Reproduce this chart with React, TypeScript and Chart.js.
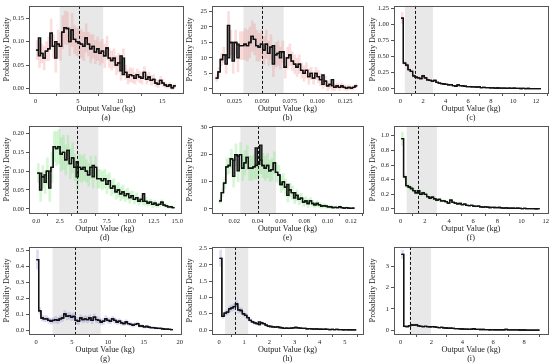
import React, { useEffect, useRef } from 'react';
import { Chart, registerables } from 'chart.js';
Chart.register(...registerables);

// ---------- panel (a) ----------
const aRange = [0.05, 16.6];
const aVals = [
  0.082, 0.07, 0.075, 0.065, 0.08, 0.085, 0.118, 0.09, 0.065, 0.095,
  0.09, 0.12, 0.13, 0.128, 0.1, 0.125, 0.105, 0.1, 0.097, 0.095,
  0.09, 0.108, 0.095, 0.085, 0.09, 0.078, 0.085, 0.075, 0.08, 0.07,
  0.087, 0.065, 0.06, 0.065, 0.05, 0.055, 0.038, 0.065, 0.035, 0.025,
  0.03, 0.028, 0.022, 0.03, 0.025, 0.022, 0.035, 0.02, 0.025, 0.018,
  0.02, 0.012, 0.01, 0.018, 0.012, 0.008, 0.005, 0.008, 0.002, 0.006,
];
const aErr = [
  0.02, 0.025, 0.02, 0.025, 0.02, 0.025, 0.03, 0.025, 0.03, 0.03,
  0.03, 0.035, 0.035, 0.035, 0.03, 0.035, 0.03, 0.03, 0.03, 0.03,
  0.03, 0.03, 0.025, 0.03, 0.025, 0.025, 0.025, 0.025, 0.025, 0.025,
  0.025, 0.02, 0.02, 0.02, 0.02, 0.02, 0.02, 0.02, 0.015, 0.015,
  0.015, 0.015, 0.012, 0.012, 0.012, 0.012, 0.012, 0.01, 0.01, 0.01,
  0.01, 0.008, 0.008, 0.008, 0.008, 0.006, 0.005, 0.005, 0.004, 0.004,
];
const aAlt = [[1, 0.108], [8, 0.1], [36, 0.07], [37, 0.03]];
const aShade = [2.85, 8.0];
const aMark = 5.1;
const aXLim = [-0.78, 17.45];
const aYLim = [-0.009, 0.176];
const aXTicks = [0, 5, 10, 15];
const aYTicks = [0, 0.05, 0.1, 0.15];

// ---------- panel (b) ----------
const bRange = [0.008, 0.136];
const bVals = [
  3.5, 5.5, 9.5, 11, 8, 20.5, 15, 9, 15, 10,
  14, 14, 14.5, 14, 15, 17, 16, 14, 13.5, 14.5,
  12.5, 14.5, 11.5, 13.5, 8, 11, 11.5, 10, 12, 7,
  10, 11, 9, 8, 7, 8, 6, 5, 6, 4,
  5, 3.5, 5, 4, 3, 1.5, 2.5, 1, 1.5, 1,
  0.5, 1, 0.5, 1, 0.5, 0.3, 0.5, 0.3, 0.5, 1,
];
const bErr = [
  1, 1.5, 2, 2.5, 3, 4.5, 4, 4, 4, 4.5,
  4.5, 4.5, 5, 5, 5, 5, 5, 5, 4.5, 4.5,
  4.5, 4.5, 4, 4, 4, 4, 4, 3.5, 3.5, 3.5,
  3.5, 3.5, 3, 3, 3, 3, 2.5, 2.5, 2.5, 2.5,
  2, 2, 2, 2, 2, 1.5, 1.5, 1.5, 1.5, 1.5,
  1, 1, 1, 1, 0.8, 0.8, 0.8, 0.6, 0.6, 0.6,
];
const bAlt = [[4, 11], [5, 10], [7, 15], [9, 14.5], [24, 14], [27, 12], [45, 4.5], [49, 3]];
const bShade = [0.0332, 0.0695];
const bMark = 0.05;
const bXLim = [0.0048, 0.1412];
const bYLim = [-1.3, 26.8];
const bXTicks = [0.025, 0.05, 0.075, 0.1, 0.125];
const bYTicks = [0, 5, 10, 15, 20, 25];

// ---------- panel (c) ----------
const cRange = [0.05, 12.45];
const cVals = [
  1.1, 0.4, 0.37, 0.3, 0.27, 0.2, 0.18, 0.17, 0.16, 0.2,
  0.17, 0.14, 0.13, 0.12, 0.13, 0.1, 0.09, 0.08, 0.075, 0.07,
  0.06, 0.065, 0.05, 0.04, 0.06, 0.05, 0.045, 0.04, 0.035, 0.035,
  0.03, 0.03, 0.025, 0.03, 0.02, 0.022, 0.02, 0.018, 0.015, 0.015,
  0.012, 0.013, 0.01, 0.012, 0.01, 0.008, 0.01, 0.008, 0.01, 0.006,
  0.008, 0.005, 0.006, 0.004, 0.005, 0.003, 0.004, 0.003, 0.002, 0.003,
];
const cErr = [
  0.09, 0.03, 0.03, 0.025, 0.025, 0.02, 0.02, 0.02, 0.02, 0.02,
  0.018, 0.016, 0.015, 0.014, 0.014, 0.012, 0.012, 0.011, 0.01, 0.01,
  0.009, 0.009, 0.008, 0.008, 0.008, 0.007, 0.007, 0.007, 0.006, 0.006,
  0.006, 0.005, 0.005, 0.005, 0.005, 0.004, 0.004, 0.004, 0.004, 0.004,
  0.003, 0.003, 0.003, 0.003, 0.003, 0.003, 0.003, 0.003, 0.003, 0.003,
  0.003, 0.003, 0.003, 0.003, 0.003, 0.003, 0.003, 0.003, 0.003, 0.003,
];
const cAlt: number[][] = [];
const cShade = [0.39, 2.88];
const cMark = 1.31;
const cXLim = [-0.57, 13.07];
const cYLim = [-0.065, 1.29];
const cXTicks = [0, 2, 4, 6, 8, 10, 12];
const cYTicks = [0, 0.25, 0.5, 0.75, 1.0, 1.25];

// ---------- panel (d) ----------
const dRange = [0.1, 14.7];
const dVals = [
  0.095, 0.05, 0.085, 0.07, 0.1, 0.055, 0.11, 0.165, 0.16, 0.165,
  0.145, 0.15, 0.13, 0.155, 0.12, 0.135, 0.11, 0.085, 0.11, 0.105,
  0.11, 0.1, 0.09, 0.11, 0.085, 0.11, 0.08, 0.08, 0.075, 0.08,
  0.065, 0.075, 0.055, 0.06, 0.045, 0.05, 0.04, 0.045, 0.035, 0.04,
  0.03, 0.035, 0.025, 0.03, 0.02, 0.025, 0.02, 0.02, 0.015, 0.018,
  0.012, 0.015, 0.01, 0.012, 0.018, 0.01, 0.008, 0.005, 0.005, 0.003,
];
const dErr = [
  0.025, 0.03, 0.03, 0.03, 0.035, 0.035, 0.04, 0.04, 0.045, 0.045,
  0.045, 0.045, 0.04, 0.04, 0.04, 0.04, 0.035, 0.035, 0.035, 0.035,
  0.035, 0.03, 0.03, 0.03, 0.03, 0.03, 0.025, 0.025, 0.025, 0.025,
  0.025, 0.02, 0.02, 0.02, 0.02, 0.02, 0.018, 0.018, 0.015, 0.015,
  0.015, 0.012, 0.012, 0.012, 0.01, 0.01, 0.01, 0.01, 0.008, 0.008,
  0.008, 0.008, 0.006, 0.006, 0.006, 0.005, 0.005, 0.004, 0.004, 0.003,
];
const dAlt = [[1, 0.095], [3, 0.09], [5, 0.1], [17, 0.125], [24, 0.115], [46, 0.04]];
const dShade = [2.45, 6.6];
const dMark = 4.3;
const dXLim = [-0.77, 15.35];
const dYLim = [-0.011, 0.22];
const dXTicks = [0, 2.5, 5, 7.5, 10, 12.5, 15];
const dYTicks = [0, 0.05, 0.1, 0.15, 0.2];

// ---------- panel (e) ----------
const eRange = [0.007, 0.123];
const eVals = [
  3, 6, 9.5, 15.5, 16, 18.5, 12, 20, 14, 20,
  15, 17, 19, 15, 15, 15.5, 16, 16.5, 18, 16,
  15, 16, 14, 14.5, 17, 13.5, 12.5, 9, 10, 8,
  5, 7, 6, 4, 5, 3.5, 4, 2.5, 3, 2,
  3, 2, 1.5, 2, 1.5, 1, 1.2, 1, 0.8, 0.8,
  0.5, 0.6, 0.5, 0.8, 0.5, 0.3, 0.5, 0.3, 0.2, 0.3,
];
const eErr = [
  1, 1.5, 2, 3, 3, 3.5, 4, 4, 4, 4.5,
  4.5, 4.5, 4.5, 4.5, 4.5, 4.5, 5, 5, 5, 4.5,
  4.5, 4.5, 4, 4, 4, 3.5, 3.5, 3, 3, 3,
  2.5, 2.5, 2.5, 2, 2, 2, 1.8, 1.5, 1.5, 1.5,
  1.2, 1.2, 1, 1, 1, 0.8, 0.8, 0.8, 0.6, 0.6,
  0.5, 0.5, 0.5, 0.4, 0.4, 0.3, 0.3, 0.3, 0.2, 0.2,
];
const eAlt = [[6, 18], [8, 19.5], [16, 22.5], [18, 23.5], [30, 9], [33, 6]];
const eShade = [0.0253, 0.0558];
const eMark = 0.0405;
const eXLim = [0.001, 0.1303];
const eYLim = [-1.5, 30.6];
const eXTicks = [0.02, 0.04, 0.06, 0.08, 0.1, 0.12];
const eYTicks = [0, 10, 20, 30];

// ---------- panel (f) ----------
const fRange = [0.05, 11.5];
const fVals = [
  0.96, 0.44, 0.32, 0.3, 0.28, 0.25, 0.22, 0.25, 0.2, 0.22,
  0.2, 0.17, 0.15, 0.16, 0.14, 0.12, 0.13, 0.11, 0.11, 0.1,
  0.08, 0.12, 0.09, 0.08, 0.07, 0.075, 0.06, 0.065, 0.05, 0.045,
  0.05, 0.04, 0.035, 0.04, 0.03, 0.025, 0.03, 0.025, 0.02, 0.022,
  0.02, 0.018, 0.02, 0.015, 0.012, 0.015, 0.01, 0.012, 0.01, 0.008,
  0.01, 0.008, 0.006, 0.008, 0.005, 0.006, 0.004, 0.005, 0.003, 0.004,
];
const fErr = [
  0.09, 0.04, 0.03, 0.03, 0.03, 0.028, 0.026, 0.026, 0.024, 0.024,
  0.022, 0.02, 0.02, 0.02, 0.018, 0.016, 0.016, 0.015, 0.015, 0.014,
  0.012, 0.014, 0.012, 0.011, 0.01, 0.01, 0.009, 0.009, 0.008, 0.008,
  0.008, 0.007, 0.007, 0.006, 0.006, 0.005, 0.005, 0.005, 0.005, 0.004,
  0.004, 0.004, 0.004, 0.004, 0.004, 0.004, 0.003, 0.003, 0.003, 0.003,
  0.003, 0.003, 0.003, 0.003, 0.003, 0.003, 0.003, 0.003, 0.003, 0.003,
];
const fAlt: number[][] = [];
const fShade = [0.5, 3.0];
const fMark = 1.45;
const fXLim = [-0.55, 12.15];
const fYLim = [-0.055, 1.135];
const fXTicks = [0, 2, 4, 6, 8, 10, 12];
const fYTicks = [0, 0.2, 0.4, 0.6, 0.8, 1.0];

// ---------- panel (g) ----------
const gRange = [0.05, 19.05];
const gVals = [
  0.44, 0.12, 0.075, 0.07, 0.07, 0.06, 0.055, 0.06, 0.065, 0.06,
  0.07, 0.075, 0.1, 0.085, 0.09, 0.08, 0.085, 0.06, 0.055, 0.075,
  0.065, 0.07, 0.065, 0.075, 0.06, 0.08, 0.065, 0.06, 0.05, 0.055,
  0.07, 0.06, 0.055, 0.07, 0.06, 0.05, 0.055, 0.045, 0.04, 0.05,
  0.04, 0.035, 0.03, 0.035, 0.04, 0.025, 0.025, 0.02, 0.022, 0.018,
  0.015, 0.015, 0.012, 0.01, 0.01, 0.008, 0.006, 0.005, 0.004, 0.003,
];
const gErr = [
  0.06, 0.02, 0.018, 0.018, 0.018, 0.018, 0.018, 0.018, 0.02, 0.02,
  0.02, 0.02, 0.022, 0.022, 0.022, 0.022, 0.022, 0.02, 0.02, 0.02,
  0.02, 0.02, 0.02, 0.02, 0.02, 0.02, 0.02, 0.018, 0.018, 0.018,
  0.018, 0.018, 0.016, 0.016, 0.016, 0.015, 0.015, 0.014, 0.013, 0.013,
  0.012, 0.011, 0.01, 0.01, 0.01, 0.009, 0.008, 0.008, 0.007, 0.007,
  0.006, 0.006, 0.005, 0.005, 0.004, 0.004, 0.004, 0.003, 0.003, 0.003,
];
const gAlt: number[][] = [];
const gShade = [2.3, 9.0];
const gMark = 5.45;
const gXLim = [-0.98, 20.2];
const gYLim = [-0.025, 0.52];
const gXTicks = [0, 5, 10, 15, 20];
const gYTicks = [0, 0.1, 0.2, 0.3, 0.4, 0.5];

// ---------- panel (h) ----------
const hRange = [0.02, 5.45];
const hVals = [
  2.2, 0.42, 0.52, 0.55, 0.65, 0.68, 0.72, 0.8, 0.62, 0.6,
  0.5, 0.45, 0.38, 0.3, 0.25, 0.22, 0.2, 0.17, 0.22, 0.2,
  0.15, 0.12, 0.11, 0.1, 0.09, 0.1, 0.08, 0.07, 0.05, 0.06,
  0.05, 0.06, 0.07, 0.08, 0.07, 0.06, 0.05, 0.05, 0.04, 0.045,
  0.035, 0.03, 0.035, 0.025, 0.03, 0.02, 0.025, 0.02, 0.015, 0.02,
  0.015, 0.02, 0.012, 0.015, 0.01, 0.012, 0.008, 0.01, 0.006, 0.005,
];
const hErr = [
  0.25, 0.06, 0.07, 0.08, 0.09, 0.1, 0.1, 0.1, 0.09, 0.08,
  0.07, 0.06, 0.05, 0.05, 0.04, 0.04, 0.04, 0.04, 0.035, 0.03,
  0.03, 0.025, 0.025, 0.02, 0.02, 0.02, 0.02, 0.018, 0.016, 0.015,
  0.015, 0.015, 0.015, 0.015, 0.014, 0.013, 0.012, 0.012, 0.011, 0.01,
  0.01, 0.01, 0.009, 0.009, 0.008, 0.008, 0.008, 0.007, 0.007, 0.007,
  0.006, 0.006, 0.006, 0.006, 0.005, 0.005, 0.005, 0.005, 0.005, 0.005,
];
const hAlt = [[17, 0.25]];
const hShade = [0.24, 1.16];
const hMark = 0.62;
const hXLim = [-0.28, 5.72];
const hYLim = [-0.12, 2.55];
const hXTicks = [0, 1, 2, 3, 4, 5];
const hYTicks = [0, 0.5, 1.0, 1.5, 2.0, 2.5];

// ---------- panel (i) ----------
const iRange = [0.05, 9.0];
const iVals = [
  3.55, 0.18, 0.17, 0.2, 0.25, 0.24, 0.25, 0.2, 0.18, 0.17,
  0.18, 0.17, 0.16, 0.17, 0.15, 0.13, 0.12, 0.13, 0.11, 0.1,
  0.09, 0.095, 0.08, 0.07, 0.075, 0.06, 0.055, 0.05, 0.045, 0.04,
  0.05, 0.065, 0.04, 0.035, 0.03, 0.03, 0.025, 0.025, 0.02, 0.022,
  0.02, 0.018, 0.015, 0.018, 0.02, 0.035, 0.015, 0.012, 0.012, 0.01,
  0.01, 0.008, 0.008, 0.007, 0.006, 0.005, 0.005, 0.004, 0.004, 0.003,
];
const iErr = [
  0.2, 0.03, 0.03, 0.035, 0.04, 0.04, 0.04, 0.035, 0.03, 0.03,
  0.03, 0.028, 0.026, 0.025, 0.024, 0.022, 0.02, 0.02, 0.018, 0.017,
  0.016, 0.015, 0.014, 0.013, 0.012, 0.012, 0.011, 0.01, 0.01, 0.01,
  0.01, 0.012, 0.009, 0.008, 0.008, 0.007, 0.007, 0.006, 0.006, 0.006,
  0.005, 0.005, 0.005, 0.005, 0.005, 0.006, 0.004, 0.004, 0.004, 0.004,
  0.004, 0.003, 0.003, 0.003, 0.003, 0.003, 0.003, 0.003, 0.003, 0.003,
];
const iAlt: number[][] = [];
const iShade = [0.58, 1.97];
const iMark = 0.6;
const iXLim = [-0.43, 9.55];
const iYLim = [-0.18, 3.9];
const iXTicks = [0, 2, 4, 6, 8];
const iYTicks = [0, 1, 2, 3];

const PINK = 'rgba(240,128,128,0.26)';
const GREEN = 'rgba(120,230,120,0.32)';
const BLUE = 'rgba(110,110,220,0.25)';
const FONT = "'Liberation Serif', 'Times New Roman', serif";

type Panel = {
  label: string; range: number[]; vals: number[]; err: number[]; alt: number[][];
  shade: number[]; mark: number; xLim: number[]; yLim: number[];
  xTicks: number[]; yTicks: number[]; xDec: number; yDec: number; band: string;
};

const panels: Panel[] = [
  { label: '(a)', range: aRange, vals: aVals, err: aErr, alt: aAlt, shade: aShade, mark: aMark, xLim: aXLim, yLim: aYLim, xTicks: aXTicks, yTicks: aYTicks, xDec: 0, yDec: 2, band: PINK },
  { label: '(b)', range: bRange, vals: bVals, err: bErr, alt: bAlt, shade: bShade, mark: bMark, xLim: bXLim, yLim: bYLim, xTicks: bXTicks, yTicks: bYTicks, xDec: 3, yDec: 0, band: PINK },
  { label: '(c)', range: cRange, vals: cVals, err: cErr, alt: cAlt, shade: cShade, mark: cMark, xLim: cXLim, yLim: cYLim, xTicks: cXTicks, yTicks: cYTicks, xDec: 0, yDec: 2, band: PINK },
  { label: '(d)', range: dRange, vals: dVals, err: dErr, alt: dAlt, shade: dShade, mark: dMark, xLim: dXLim, yLim: dYLim, xTicks: dXTicks, yTicks: dYTicks, xDec: 1, yDec: 2, band: GREEN },
  { label: '(e)', range: eRange, vals: eVals, err: eErr, alt: eAlt, shade: eShade, mark: eMark, xLim: eXLim, yLim: eYLim, xTicks: eXTicks, yTicks: eYTicks, xDec: 2, yDec: 0, band: GREEN },
  { label: '(f)', range: fRange, vals: fVals, err: fErr, alt: fAlt, shade: fShade, mark: fMark, xLim: fXLim, yLim: fYLim, xTicks: fXTicks, yTicks: fYTicks, xDec: 0, yDec: 1, band: GREEN },
  { label: '(g)', range: gRange, vals: gVals, err: gErr, alt: gAlt, shade: gShade, mark: gMark, xLim: gXLim, yLim: gYLim, xTicks: gXTicks, yTicks: gYTicks, xDec: 0, yDec: 1, band: BLUE },
  { label: '(h)', range: hRange, vals: hVals, err: hErr, alt: hAlt, shade: hShade, mark: hMark, xLim: hXLim, yLim: hYLim, xTicks: hXTicks, yTicks: hYTicks, xDec: 0, yDec: 1, band: BLUE },
  { label: '(i)', range: iRange, vals: iVals, err: iErr, alt: iAlt, shade: iShade, mark: iMark, xLim: iXLim, yLim: iYLim, xTicks: iXTicks, yTicks: iYTicks, xDec: 0, yDec: 0, band: BLUE },
];

const COL_LEFT = [0, 183, 366];
const COL_W = [184, 184, 184];
const COL_YW = [29, 29, 28];
const COL_PR = [1, 4, 2];
const ROW_TOP = [0, 120, 241];
const CANVAS_H = 122;

function PanelChart({ p, idx }: { p: Panel; idx: number }) {
  const ref = useRef<HTMLCanvasElement>(null);
  const col = idx % 3;
  const row = Math.floor(idx / 3);
  useEffect(() => {
    const n = p.vals.length;
    const step = (p.range[1] - p.range[0]) / n;
    const edges = p.vals.map((_, i) => p.range[0] + step * i).concat([p.range[1]]);
    const altVals = p.vals.slice();
    p.alt.forEach(([i, v]) => { altVals[i] = v; });
    const main = edges.map((x, i) => ({ x, y: p.vals[Math.min(i, n - 1)] }));
    const alt = edges.map((x, i) => ({ x, y: altVals[Math.min(i, n - 1)] }));
    const bars = p.vals.map((v, i) => ({ x: edges[i] + step / 2, y: [v - p.err[i], v + p.err[i]] }));

    const deco = {
      id: 'deco',
      beforeDatasetsDraw(chart: any) {
        const { ctx, chartArea, scales } = chart;
        const x0 = scales.x.getPixelForValue(p.shade[0]);
        const x1 = scales.x.getPixelForValue(p.shade[1]);
        ctx.save();
        ctx.fillStyle = 'rgba(200,200,200,0.42)';
        ctx.fillRect(x0, chartArea.top, x1 - x0, chartArea.bottom - chartArea.top);
        ctx.restore();
      },
      afterDatasetsDraw(chart: any) {
        const { ctx, chartArea, scales } = chart;
        const xm = Math.round(scales.x.getPixelForValue(p.mark)) + 0.5;
        ctx.save();
        ctx.strokeStyle = '#111';
        ctx.lineWidth = 1;
        ctx.setLineDash([3, 2]);
        ctx.beginPath();
        ctx.moveTo(xm, chartArea.top);
        ctx.lineTo(xm, chartArea.bottom);
        ctx.stroke();
        ctx.setLineDash([]);
        ctx.strokeStyle = '#555';
        ctx.strokeRect(Math.round(chartArea.left) + 0.5, Math.round(chartArea.top) + 0.5,
          Math.round(chartArea.right - chartArea.left), Math.round(chartArea.bottom - chartArea.top));
        ctx.restore();
      },
    };

    const tickFont = { family: FONT, size: 6.5 };
    const titleFont = { family: FONT, size: 8.2, lineHeight: 1.1 };
    const chart = new Chart(ref.current as HTMLCanvasElement, {
      type: 'line',
      data: {
        datasets: [
          { type: 'line', data: main, borderColor: '#111', borderWidth: 1.3, pointRadius: 0, stepped: true, fill: false, order: 1 } as any,
          { type: 'line', data: alt, borderColor: '#111', borderWidth: 1.3, pointRadius: 0, stepped: true, fill: '-1', backgroundColor: 'rgba(85,85,85,0.9)', order: 2 } as any,
          { type: 'bar', data: bars, backgroundColor: p.band, borderWidth: 0, barThickness: 2, order: 3 } as any,
        ],
      },
      options: {
        animation: false,
        responsive: false,
        events: [],
        layout: { padding: { top: 3, right: COL_PR[col], left: 0, bottom: 0 } },
        plugins: { legend: { display: false }, tooltip: { enabled: false } },
        scales: {
          x: {
            type: 'linear', min: p.xLim[0], max: p.xLim[1], offset: false,
            afterBuildTicks: (s: any) => { s.ticks = p.xTicks.map((v) => ({ value: v })); },
            afterFit: (s: any) => { s.height = 29; },
            ticks: { autoSkip: false, maxRotation: 0, padding: 1, font: tickFont, color: '#222', callback: (v: any) => Number(v).toFixed(p.xDec) },
            grid: { drawOnChartArea: false, drawTicks: true, tickLength: 3, color: '#555' },
            border: { display: false },
            title: { display: true, text: ['Output Value (kg)', p.label], font: titleFont, color: '#222', padding: { top: 0, bottom: 0 } },
          },
          y: {
            type: 'linear', min: p.yLim[0], max: p.yLim[1],
            afterBuildTicks: (s: any) => { s.ticks = p.yTicks.map((v) => ({ value: v })); },
            afterFit: (s: any) => { s.width = COL_YW[col]; },
            ticks: { autoSkip: false, padding: 2, font: tickFont, color: '#222', callback: (v: any) => Number(v).toFixed(p.yDec) },
            grid: { drawOnChartArea: false, drawTicks: true, tickLength: 3, color: '#555' },
            border: { display: false },
            title: { display: true, text: 'Probability Density', font: titleFont, color: '#222', padding: { top: 2, bottom: 0 } },
          },
        },
      } as any,
      plugins: [deco],
    });
    return () => chart.destroy();
  }, []);
  return (
    <canvas
      ref={ref}
      width={COL_W[col]}
      height={CANVAS_H}
      style={{ position: 'absolute', left: COL_LEFT[col], top: ROW_TOP[row], width: COL_W[col], height: CANVAS_H }}
    />
  );
}

export default function App() {
  return (
    <div style={{ position: 'absolute', left: 0, top: 0, width: 550, height: 363, background: '#fff', overflow: 'hidden' }}>
      {panels.map((p, i) => <PanelChart key={p.label} p={p} idx={i} />)}
    </div>
  );
}
